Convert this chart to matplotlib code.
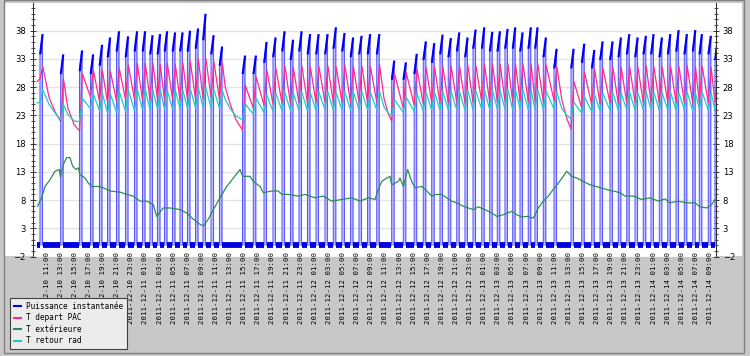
import numpy as np
import pandas as pd
import matplotlib
matplotlib.use("Agg")
import matplotlib.pyplot as plt
import matplotlib.dates as mdates
from matplotlib.patches import Rectangle
from matplotlib.ticker import MultipleLocator

# ---------------- data (hours counted from 2011-12-10 00:00) ----------------
T0 = pd.Timestamp("2011-12-10 00:00")

pulse_start_h = [10.05, 12.98, 15.65, 17.21, 18.48, 19.62, 20.89, 22.17, 23.44, 24.58,
                 25.64, 26.70, 27.70, 28.83, 29.89, 30.95, 32.09, 33.15, 34.29, 35.49,
                 38.75, 40.28, 41.80, 43.07, 44.35, 45.55, 46.76, 47.96, 49.17, 50.44,
                 51.62, 52.85, 54.06, 55.26, 56.47, 57.77, 59.89, 61.54, 63.08, 64.37,
                 65.56, 66.74, 67.91, 69.11, 70.28, 71.42, 72.65, 73.78, 74.86, 75.95,
                 77.04, 78.08, 79.25, 80.20, 81.38, 82.90, 85.31, 86.82, 88.24, 89.42,
                 90.83, 92.01, 93.20, 94.38, 95.55, 96.64, 97.82, 99.01, 100.19, 101.36,
                 102.55, 103.49, 104.76, 105.71]
pulse_len_h = 0.35
power_start = [34.0, 30.5, 31.0, 30.5, 32.0, 33.5, 34.5, 33.5, 34.5, 34.5,
               34.0, 34.0, 34.5, 34.5, 34.5, 34.5, 35.0, 36.5, 34.0, 32.0,
               30.5, 30.5, 32.5, 33.5, 34.5, 33.0, 34.5, 34.0, 34.0, 34.0,
               35.0, 34.5, 33.5, 34.0, 34.0, 34.0, 29.5, 29.5, 30.5, 33.0,
               32.5, 34.0, 33.5, 34.5, 33.5, 35.0, 35.0, 34.5, 34.5, 35.0,
               35.0, 34.5, 35.0, 35.0, 33.5, 31.5, 31.5, 32.5, 31.5, 33.0,
               33.0, 33.5, 34.0, 33.5, 34.0, 34.0, 33.5, 34.0, 34.5, 34.0,
               34.5, 34.0, 34.0, 33.0]
power_peak = [37.2, 33.6, 34.3, 33.6, 35.3, 36.6, 37.7, 36.8, 37.7, 37.7,
              37.0, 37.2, 37.7, 37.5, 37.5, 37.8, 38.2, 40.8, 37.0, 35.0,
              33.4, 33.4, 35.8, 36.6, 37.7, 36.2, 37.7, 37.2, 37.2, 37.2,
              38.4, 37.4, 36.6, 36.9, 37.2, 37.2, 32.5, 32.2, 33.7, 35.9,
              35.6, 37.1, 36.5, 37.5, 36.6, 38.0, 38.4, 37.6, 37.7, 38.1,
              38.4, 37.5, 38.4, 38.4, 36.6, 34.6, 34.6, 35.5, 34.4, 35.9,
              35.9, 36.6, 37.2, 36.6, 36.9, 37.2, 36.6, 37.2, 37.9, 37.2,
              37.9, 37.2, 36.9, 36.0]

# T depart PAC / T retour rad at each pulse start (low) and just after it (high)
peak_lag_h = 0.4
depart_low = [29.5, 21.9, 20.3, 26.2, 25.5, 25.3, 25.6, 25.8, 25.8, 25.7,
              25.7, 25.8, 25.6, 25.8, 25.7, 25.8, 25.9, 26.0, 26.2, 25.8,
              20.4, 24.3, 24.8, 25.0, 25.1, 25.0, 25.2, 25.1, 25.2, 25.3,
              25.2, 25.3, 25.2, 25.3, 25.2, 25.4, 22.0, 24.2, 24.8, 25.0,
              25.2, 25.1, 25.2, 25.3, 25.2, 25.3, 25.4, 25.3, 25.4, 25.5,
              25.4, 25.5, 25.4, 25.5, 25.4, 25.6, 20.5, 24.3, 24.9, 25.0,
              25.2, 25.1, 25.2, 25.3, 25.2, 25.3, 25.2, 25.3, 25.2, 25.3,
              25.2, 25.3, 25.2, 25.3]
depart_high = [31.6, 29.4, 30.4, 31.0, 31.0, 30.8, 31.3, 31.9, 32.2, 32.2,
               32.3, 32.0, 32.2, 32.0, 32.3, 32.6, 33.0, 33.1, 32.5, 32.3,
               28.3, 29.8, 31.0, 31.4, 31.8, 31.5, 31.8, 31.6, 31.7, 31.8,
               31.6, 31.9, 31.7, 31.8, 31.7, 32.0, 30.4, 30.6, 31.2, 31.5,
               31.6, 31.7, 31.8, 31.7, 31.9, 31.8, 32.0, 32.1, 32.0, 32.2,
               32.1, 32.2, 32.0, 32.1, 31.9, 31.6, 29.0, 30.6, 31.2, 31.4,
               31.6, 31.5, 31.7, 31.6, 31.8, 31.7, 31.6, 31.8, 31.7, 31.8,
               31.6, 31.7, 31.5, 31.6]
retour_low = [25.4, 22.2, 21.9, 24.2, 23.8, 23.4, 23.5, 23.7, 23.8, 24.0,
              24.0, 24.1, 24.0, 24.1, 24.2, 24.2, 24.3, 24.4, 24.3, 24.2,
              22.2, 23.2, 23.5, 23.7, 23.8, 23.8, 23.9, 23.8, 23.9, 24.0,
              23.9, 24.0, 23.9, 24.0, 24.0, 24.0, 23.0, 23.5, 23.7, 23.8,
              23.9, 23.9, 24.0, 24.0, 23.9, 24.0, 24.1, 24.0, 24.1, 24.1,
              24.0, 24.1, 24.0, 24.1, 24.0, 24.1, 22.4, 23.4, 23.7, 23.8,
              23.9, 23.9, 24.0, 23.9, 24.0, 24.0, 23.9, 24.0, 23.9, 24.0,
              23.9, 24.0, 23.9, 24.0]
retour_high = [27.5, 24.9, 26.0, 26.8, 26.9, 26.8, 27.2, 27.5, 27.6, 27.6,
               27.5, 27.6, 27.4, 27.5, 27.5, 27.7, 27.9, 27.9, 27.6, 27.4,
               25.0, 26.0, 26.6, 26.9, 27.1, 26.9, 27.1, 27.0, 27.1, 27.2,
               27.0, 27.2, 27.1, 27.2, 27.1, 27.3, 25.8, 26.2, 26.8, 27.0,
               27.1, 27.2, 27.3, 27.2, 27.4, 27.3, 27.5, 27.5, 27.4, 27.6,
               27.5, 27.6, 27.4, 27.5, 27.3, 27.1, 25.3, 26.3, 26.7, 26.9,
               27.0, 26.9, 27.1, 27.0, 27.2, 27.1, 27.0, 27.1, 27.0, 27.1,
               27.0, 27.1, 27.0, 27.1]
series_start_h = 9.65
depart_first = 29.0
retour_first = 25.2
# readings inside the long pauses of the heat pump
pause_h = [11.35, 12.2, 14.0, 14.9, 36.3, 37.0, 37.8, 58.8, 59.4, 84.0, 84.7]
pause_depart = [26.1, 23.6, 24.3, 21.3, 28.0, 25.0, 22.3, 26.0, 23.3, 25.8, 22.5]
pause_retour = [24.9, 23.4, 23.1, 22.0, 25.8, 24.2, 22.9, 24.5, 23.4, 24.2, 23.0]

# T exterieure
ext_h = [9.70, 10.29, 10.76, 11.47, 12.18, 12.79, 12.95, 13.35, 13.83, 14.30, 14.68,
         15.15, 15.48, 15.72, 16.43, 16.90, 17.38, 18.55, 19.50, 19.97, 21.39, 22.34,
         23.27, 24.22, 25.17, 26.11, 26.59, 27.52, 28.47, 29.89, 30.84, 31.78, 32.73,
         33.19, 33.90, 34.61, 35.56, 36.51, 37.45, 38.40, 38.78, 39.34, 39.81, 40.28,
         41.23, 41.70, 42.89, 43.82, 44.31, 45.24, 46.66, 47.61, 49.02, 50.20, 51.39,
         52.81, 54.23, 55.40, 56.58, 57.53, 58.00, 58.48, 59.19, 59.65, 59.89, 60.83,
         61.07, 61.54, 62.16, 62.73, 63.20, 64.15, 64.86, 65.56, 66.27, 66.98, 67.69,
         68.40, 69.11, 70.04, 70.75, 71.46, 72.17, 73.12, 74.07, 74.78, 75.71, 76.90,
         77.61, 78.32, 79.03, 79.96, 80.67, 81.38, 82.09, 82.80, 83.51, 84.21, 84.70,
         85.40, 86.11, 87.05, 88.00, 89.42, 90.83, 91.30, 92.25, 92.96, 94.14, 95.33,
         96.51, 97.68, 98.63, 99.34, 100.51, 101.70, 102.88, 103.59, 104.54, 105.24,
         105.71]
ext_val = [6.9, 8.4, 10.4, 11.6, 13.1, 13.4, 12.0, 14.3, 15.5, 15.5, 14.0,
           13.4, 13.7, 12.5, 11.9, 11.0, 10.4, 10.4, 9.9, 9.6, 9.4, 9.0,
           8.7, 7.8, 7.8, 7.2, 5.1, 6.6, 6.6, 6.3, 5.7, 4.6, 3.7,
           3.4, 4.6, 6.3, 8.4, 10.4, 11.9, 13.4, 12.2, 12.2, 12.2, 11.3,
           10.4, 9.3, 9.6, 9.6, 9.0, 9.0, 8.7, 9.0, 8.4, 8.7, 7.8,
           8.1, 8.4, 7.8, 8.4, 8.1, 9.9, 11.3, 11.9, 12.2, 10.7, 11.3,
           11.9, 10.4, 13.4, 11.3, 10.2, 10.4, 9.6, 8.7, 9.0, 9.0, 8.4,
           7.8, 7.5, 6.9, 6.6, 6.3, 6.8, 6.3, 5.7, 5.1, 5.4, 6.0,
           5.4, 5.0, 5.1, 4.8, 6.6, 7.8, 8.7, 9.9, 11.0, 12.2, 13.1,
           12.2, 11.9, 11.3, 10.7, 10.2, 9.7, 9.6, 9.3, 8.7, 8.7, 8.1,
           8.4, 7.8, 8.2, 7.5, 7.8, 7.5, 7.5, 6.8, 6.6, 7.2,
           8.1]

y_ticks = [-2, 3, 8, 13, 18, 23, 28, 33, 38]
series_names = ["Puissance instantanée", "T depart PAC", "T extérieure", "T retour rad"]
series_colors = ["#0000ff", "#ff2a8a", "#2e8b57", "#22c8cc"]

# ---------------- build the polylines from the readings ----------------
def to_dt(hours):
    return T0 + pd.to_timedelta(np.asarray(hours, dtype=float), unit="h")

p_t, p_v = [series_start_h], [0.0]
top_t, top_v = [], []
base_t, base_v = [], []
prev_end = series_start_h
for s, a, b in zip(pulse_start_h, power_start, power_peak):
    e = s + pulse_len_h
    p_t += [s, s, e, e]
    p_v += [0.0, a, b, 0.0]
    top_t += [s + 0.05, e, np.nan]
    top_v += [a, b, np.nan]
    base_t += [prev_end + 0.04, s - 0.04, np.nan]
    base_v += [0.0, 0.0, np.nan]
    prev_end = e

def temp_series(first, lows, highs, pause_vals):
    pts = [(series_start_h, first)]
    for s, lo, hi in zip(pulse_start_h, lows, highs):
        pts.append((s, lo))
        pts.append((s + peak_lag_h, hi))
    pts += list(zip(pause_h, pause_vals))
    pts.sort(key=lambda p: p[0])
    return [p[0] for p in pts], [p[1] for p in pts]

d_t, d_v = temp_series(depart_first, depart_low, depart_high, pause_depart)
r_t, r_v = temp_series(retour_first, retour_low, retour_high, pause_retour)

# ---------------- figure ----------------
W, H = 750, 356
fig = plt.figure(figsize=(7.5, 3.56), dpi=100, facecolor="#c8c8c8")
fig.patches.append(Rectangle((5 / W, 1 - 256 / H), 737 / W, 253 / H,
                             transform=fig.transFigure, facecolor="white",
                             edgecolor="none", zorder=-10))
fig.patches.append(Rectangle((3.5 / W, 1 - 352.5 / H), 740 / W, 353 / H,
                             transform=fig.transFigure, facecolor="none",
                             edgecolor="#808080", lw=1.0, zorder=-9))

ax = fig.add_axes([32.7 / W, 1 - 256.5 / H, (715.7 - 32.7) / W, (256.5 - 3) / H])
ax.set_facecolor("white")

ax.fill_between(to_dt(p_t), p_v, 0, color="#a8a8ff", lw=0, alpha=0.75, zorder=2)
ax.plot(to_dt(p_t), p_v, color="#5a5aff", lw=0.8, zorder=3)
ax.plot(to_dt(top_t), top_v, color=series_colors[0], lw=1.6, zorder=3)
ax.plot(to_dt(base_t), base_v, color="#0000e0", lw=4.2, solid_capstyle="butt", zorder=3)
ax.plot(to_dt(d_t), d_v, color=series_colors[1], lw=0.9, zorder=4)
ax.plot(to_dt(ext_h), ext_val, color=series_colors[2], lw=0.9, zorder=4)
ax.plot(to_dt(r_t), r_v, color=series_colors[3], lw=0.9, zorder=5)

ax.set_xlim(to_dt([9.016])[0], to_dt([105.81])[0])
ax.set_ylim(-2, 42.9)
ax.set_yticks(y_ticks)
ax.yaxis.set_minor_locator(MultipleLocator(1))
ax.grid(axis="y", which="major", color="#e4e4e4", lw=1.0, zorder=0)
ax.set_axisbelow(True)

ax.xaxis.set_major_locator(mdates.HourLocator(byhour=range(1, 24, 2)))
ax.xaxis.set_major_formatter(mdates.DateFormatter("%Y-%m-%d %H:%M"))
ax.tick_params(axis="x", which="major", length=0, pad=-3, labelsize=5.3,
               labelrotation=90)
for lab in ax.get_xticklabels():
    lab.set_fontfamily("DejaVu Sans Mono")
ax.tick_params(axis="y", which="both", direction="inout", left=True, right=True,
               labelleft=True, labelright=True, labelsize=6, pad=2.5, color="#333333")
ax.tick_params(axis="y", which="major", length=5, width=0.7)
ax.tick_params(axis="y", which="minor", length=3, width=0.6)

for side in ["top", "bottom"]:
    ax.spines[side].set_visible(False)
for side in ["left", "right"]:
    ax.spines[side].set_color("#333333")
    ax.spines[side].set_linewidth(0.8)

handles = [plt.Line2D([], [], color=c, lw=1.5) for c in series_colors]
leg = fig.legend(handles, series_names, loc="upper left",
                 bbox_to_anchor=(10 / W, 1 - 298.3 / H), borderaxespad=0,
                 prop={"family": "DejaVu Sans Mono", "size": 5.6},
                 handlelength=1.0, handletextpad=0.6, labelspacing=0.32,
                 borderpad=0.45, fancybox=False, framealpha=1)
leg.get_frame().set_facecolor("#ececec")
leg.get_frame().set_edgecolor("#404040")
leg.get_frame().set_linewidth(0.8)

fig.savefig("out.png", dpi=100, facecolor=fig.get_facecolor())
